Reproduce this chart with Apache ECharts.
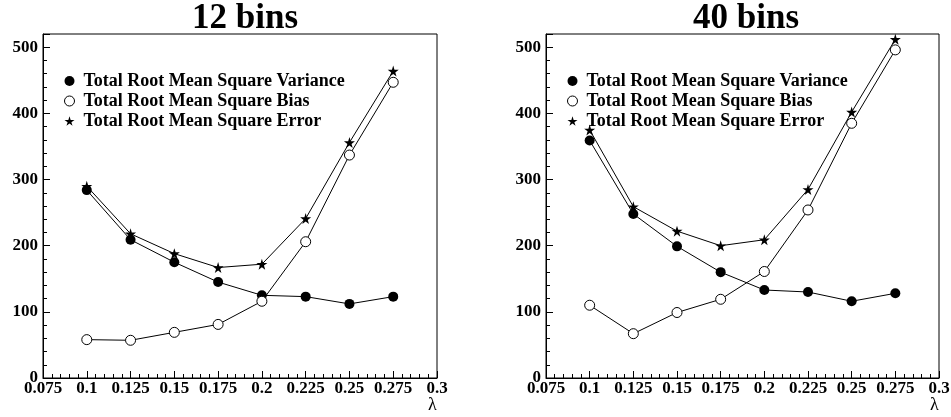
<!DOCTYPE html>
<html>
<head>
<meta charset="utf-8">
<script src="https://cdn.jsdelivr.net/npm/echarts@6/dist/echarts.min.js"></script>
<style>
  html, body { margin: 0; padding: 0; background: #fff; }
  #rms-chart { width: 951px; height: 417px; }
</style>
</head>
<body>
<div id="rms-chart"></div>
<script>
// lambda values (x)
const lambdas = [0.1, 0.125, 0.15, 0.175, 0.2, 0.225, 0.25, 0.275];

// 12 bins
const variance12 = [284, 209, 175, 145, 125, 123, 112, 123];
const bias12 = [58, 57, 69, 81, 116, 206, 337, 447];
const error12 = [290, 218, 188, 167, 172, 241, 356, 464];

// 40 bins
const variance40 = [359, 248, 199, 160, 133, 130, 116, 128];
const bias40 = [110, 67, 99, 119, 161, 254, 385, 496];
const error40 = [375, 259, 222, 200, 209, 285, 402, 512];

const panelTitles = ['12 bins', '40 bins'];
const seriesNames = [
  'Total Root Mean Square Variance',
  'Total Root Mean Square Bias',
  'Total Root Mean Square Error'
];

const FONT = "'Liberation Serif', 'DejaVu Serif', serif";
const STAR = 'path://M50,0 L61,35 L98,35 L68,57 L79,91 L50,70 L21,91 L32,57 L2,35 L39,35 Z';

const toPoints = (vals) => lambdas.map((x, i) => [x, vals[i]]);

const myChart = echarts.init(document.getElementById('rms-chart'));

function makeXAxis(gridIndex) {
  return {
    type: 'value',
    gridIndex: gridIndex,
    min: 0.075,
    max: 0.3,
    interval: 0.025,
    name: 'λ',
    nameLocation: 'end',
    nameGap: -9,
    nameMoveOverlap: false,
    nameTextStyle: {
      fontFamily: FONT,
      fontSize: 18,
      color: '#000',
      verticalAlign: 'top',
      padding: [18, 0, 0, 0]
    },
    axisLine: { show: true, lineStyle: { color: '#000', width: 1 } },
    axisTick: { show: true, inside: true, length: 7, lineStyle: { color: '#000' } },
    minorTick: { show: true, splitNumber: 5, length: 4, lineStyle: { color: '#000' } },
    splitLine: { show: false },
    axisLabel: {
      margin: 2,
      fontFamily: FONT,
      fontWeight: 'bold',
      fontSize: 17,
      color: '#000',
      showMinLabel: true,
      showMaxLabel: true
    }
  };
}

function makeYAxis(gridIndex) {
  return {
    type: 'value',
    gridIndex: gridIndex,
    min: 0,
    max: 520,
    interval: 100,
    axisLine: { show: true, lineStyle: { color: '#000', width: 1 } },
    axisTick: { show: true, inside: true, length: 7, lineStyle: { color: '#000' } },
    minorTick: { show: true, splitNumber: 5, length: 4, lineStyle: { color: '#000' } },
    splitLine: { show: false },
    axisLabel: {
      margin: 5,
      fontFamily: FONT,
      fontWeight: 'bold',
      fontSize: 17,
      color: '#000',
      showMaxLabel: false
    }
  };
}

function makeSeries(gridIndex, variance, bias, error) {
  const line = { color: '#000', width: 1 };
  return [
    {
      name: seriesNames[0],
      type: 'line',
      xAxisIndex: gridIndex,
      yAxisIndex: gridIndex,
      data: toPoints(variance),
      symbol: 'circle',
      symbolSize: 10,
      itemStyle: { color: '#000' },
      lineStyle: line
    },
    {
      name: seriesNames[1],
      type: 'line',
      xAxisIndex: gridIndex,
      yAxisIndex: gridIndex,
      data: toPoints(bias),
      symbol: 'circle',
      symbolSize: 10,
      itemStyle: { color: '#fff', borderColor: '#000', borderWidth: 1 },
      lineStyle: line
    },
    {
      name: seriesNames[2],
      type: 'line',
      xAxisIndex: gridIndex,
      yAxisIndex: gridIndex,
      data: toPoints(error),
      symbol: STAR,
      symbolSize: 11,
      itemStyle: { color: '#000' },
      lineStyle: line
    }
  ];
}

function makeLegend(left) {
  return {
    orient: 'vertical',
    left: left,
    top: 71,
    padding: 0,
    itemGap: 0,
    itemWidth: 10,
    itemHeight: 10,
    selectedMode: false,
    textStyle: {
      fontFamily: FONT,
      fontWeight: 'bold',
      fontSize: 18,
      lineHeight: 20,
      color: '#000',
      padding: [0, 0, 0, 4]
    },
    data: [
      { name: seriesNames[0], icon: 'circle', itemStyle: { color: '#000', borderWidth: 0 } },
      { name: seriesNames[1], icon: 'circle', itemStyle: { color: '#fff', borderColor: '#000', borderWidth: 1 } },
      { name: seriesNames[2], icon: STAR, itemStyle: { color: '#000', borderWidth: 0 } }
    ]
  };
}

const option = {
  animation: false,
  backgroundColor: '#fff',
  title: [
    {
      text: panelTitles[0],
      left: 192,
      top: 1,
      padding: 0,
      textStyle: { fontFamily: FONT, fontWeight: 'bold', fontSize: 35, color: '#000' }
    },
    {
      text: panelTitles[1],
      left: 693,
      top: 1,
      padding: 0,
      textStyle: { fontFamily: FONT, fontWeight: 'bold', fontSize: 35, color: '#000' }
    }
  ],
  legend: [makeLegend(64), makeLegend(567)],
  grid: [
    { left: 43, top: 34, width: 394, height: 344, show: true, borderColor: '#000', borderWidth: 1, containLabel: false, outerBoundsMode: 'none' },
    { left: 546, top: 34, width: 393, height: 344, show: true, borderColor: '#000', borderWidth: 1, containLabel: false, outerBoundsMode: 'none' }
  ],
  xAxis: [makeXAxis(0), makeXAxis(1)],
  yAxis: [makeYAxis(0), makeYAxis(1)],
  series: [].concat(
    makeSeries(0, variance12, bias12, error12),
    makeSeries(1, variance40, bias40, error40)
  )
};

myChart.setOption(option);
</script>
</body>
</html>
